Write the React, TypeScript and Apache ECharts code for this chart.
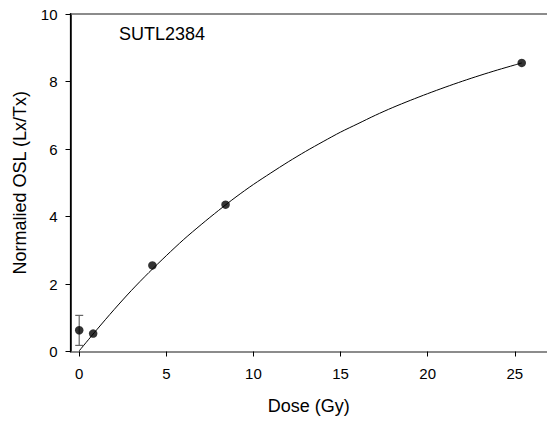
import React, { useEffect, useRef } from "react";
import * as echarts from "echarts";

// Measured dose points (Gy) and normalised OSL signal (Lx/Tx)
const doseGy = [0, 0.8, 4.2, 8.4, 25.4];
const lxTx = [0.63, 0.53, 2.55, 4.35, 8.55];

// Error bar on the zero-dose point
const errorDose = [0];
const errorLow = [0.18];
const errorHigh = [1.07];

// Dose-response fit curve
const fitDose = [
  0, 1, 2, 3, 4, 5, 6, 7, 8, 9, 10, 11, 12, 13, 14, 15, 16, 17, 18, 19, 20, 21, 22, 23, 24, 25, 25.4,
];
const fitLxTx = [
  0.02, 0.64, 1.24, 1.81, 2.34, 2.84, 3.32, 3.76, 4.18, 4.58, 4.95, 5.29, 5.62, 5.93, 6.22, 6.5, 6.75,
  7.0, 7.23, 7.44, 7.64, 7.83, 8.01, 8.18, 8.34, 8.49, 8.55,
];

const xTicks = [0, 5, 10, 15, 20, 25];
const sampleName = "SUTL2384";

const X_MIN = -0.5;
const X_MAX = 26.85;
const Y_MIN = 0;
const Y_MAX = 10;

const FONT = "'Liberation Sans', Arial, sans-serif";
const AXIS_COLOR = "#666";

export default function App() {
  const ref = useRef<HTMLDivElement>(null);

  useEffect(() => {
    if (!ref.current) return;
    const chart = echarts.init(ref.current, null, { renderer: "svg" });

    const errData = errorDose.map((d, i) => [d, errorLow[i], errorHigh[i]]);
    const label = {
      type: "text",
      left: 119,
      top: 25,
      style: { text: sampleName, font: `18px ${FONT}`, fill: "#000" },
    };

    chart.setOption({
      animation: false,
      textStyle: { fontFamily: FONT },
      grid: { left: 70.5, top: 14, right: 0, bottom: 69.5 },
      xAxis: [
        {
          type: "value",
          min: X_MIN,
          max: X_MAX,
          name: "Dose (Gy)",
          nameLocation: "middle",
          nameGap: 45,
          nameTextStyle: { fontFamily: FONT, fontSize: 18, color: "#000" },
          axisLine: { show: true, onZero: false, lineStyle: { color: AXIS_COLOR, width: 1.5 } },
          axisTick: { show: true, inside: false, length: 5, customValues: xTicks, lineStyle: { color: "#000" } },
          axisLabel: { customValues: xTicks, margin: 14, fontFamily: FONT, fontSize: 15, color: "#000" },
          splitLine: { show: false },
        },
        {
          type: "value",
          position: "top",
          min: X_MIN,
          max: X_MAX,
          axisLine: { show: true, onZero: false, lineStyle: { color: AXIS_COLOR, width: 1.5 } },
          axisTick: { show: false },
          axisLabel: { show: false },
          splitLine: { show: false },
        },
      ],
      yAxis: [
        {
          type: "value",
          position: "left",
          min: Y_MIN,
          max: Y_MAX,
          interval: 2,
          name: "Normalied OSL (Lx/Tx)",
          nameLocation: "middle",
          nameGap: 42,
          nameTextStyle: { fontFamily: FONT, fontSize: 18, color: "#000" },
          axisLine: { show: true, onZero: false, lineStyle: { color: "#000", width: 1.5 } },
          axisTick: { show: true, inside: false, length: 5, lineStyle: { color: "#000" } },
          axisLabel: { margin: 13, fontFamily: FONT, fontSize: 15, color: "#000" },
          splitLine: { show: false },
        },
      ],
      graphic: [label],
      series: [
        {
          type: "line",
          data: fitDose.map((d, i) => [d, fitLxTx[i]]),
          smooth: 0.3,
          showSymbol: false,
          lineStyle: { color: "#000", width: 1 },
          z: 2,
        },
        {
          type: "custom",
          data: errData,
          renderItem: (params: any, api: any) => {
            const x = api.value(0);
            const top = api.coord([x, api.value(2)]);
            const bot = api.coord([x, api.value(1)]);
            const cap = 4;
            const style = { stroke: "#666", lineWidth: 1.2 };
            return {
              type: "group",
              children: [
                { type: "line", shape: { x1: top[0], y1: top[1], x2: bot[0], y2: bot[1] }, style },
                { type: "line", shape: { x1: top[0] - cap, y1: top[1], x2: top[0] + cap, y2: top[1] }, style },
                { type: "line", shape: { x1: bot[0] - cap, y1: bot[1], x2: bot[0] + cap, y2: bot[1] }, style },
              ],
            };
          },
          z: 3,
        },
        {
          type: "scatter",
          data: doseGy.map((d, i) => [d, lxTx[i]]),
          symbol: "circle",
          symbolSize: 8.5,
          itemStyle: { color: "#000" },
          z: 4,
        },
      ],
    });

    // Left spine of the plot, placed through the axis scales
    const p0 = chart.convertToPixel({ xAxisIndex: 0, yAxisIndex: 0 }, [X_MIN, Y_MIN]) as number[];
    const p1 = chart.convertToPixel({ xAxisIndex: 0, yAxisIndex: 0 }, [X_MIN, Y_MAX]) as number[];
    if (p0 && p1) {
      chart.setOption({
        graphic: [
          label,
          {
            type: "line",
            z: 10,
            shape: { x1: p0[0], y1: p0[1] + 0.75, x2: p1[0], y2: p1[1] - 0.75 },
            style: { stroke: "#000", lineWidth: 1.2 },
          },
        ],
      });
    }

    return () => chart.dispose();
  }, []);

  return <div ref={ref} style={{ width: 547, height: 421, position: "absolute", left: 0, top: 0 }} />;
}
